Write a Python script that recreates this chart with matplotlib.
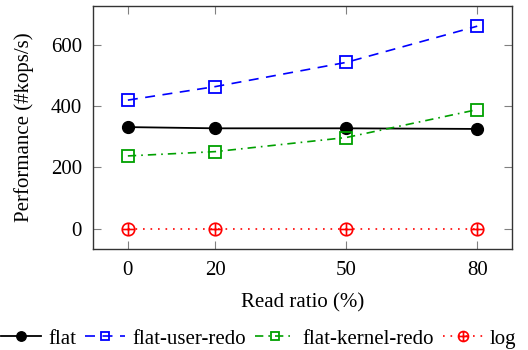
import matplotlib
matplotlib.use('Agg')
import matplotlib.pyplot as plt
from matplotlib.path import Path

read_ratio = [0, 20, 50, 80]
flat = [331, 327, 327, 325]
flat_user_redo = [419, 463, 542, 660]
flat_kernel_redo = [237, 251, 297, 388]
log = [0, 0, 0, 0]
yticks = [0, 200, 400, 600]

plt.rcParams['font.family'] = ['Liberation Serif', 'DejaVu Serif']
plt.rcParams['mathtext.fontset'] = 'stix'

# circle with a plus inside, like the pgfplots "oplus" mark
circ = Path.unit_circle()
plus = Path([(-1, 0), (1, 0), (0, -1), (0, 1)],
            [Path.MOVETO, Path.LINETO, Path.MOVETO, Path.LINETO])
oplus = Path.make_compound_path(circ, plus)

fig = plt.figure(figsize=(5.28, 3.5), dpi=100)
ax = fig.add_axes([0.176, 0.289, 0.794, 0.694])

ax.plot(read_ratio, flat, color='black', lw=1.3, marker='o', ms=8.5, label='flat')
ax.plot(read_ratio, flat_user_redo, color='blue', lw=1.2, ls=(0, (6, 4.5)),
        marker='s', ms=8, mfc='none', mew=1.3, label='flat-user-redo')
ax.plot(read_ratio, flat_kernel_redo, color='#00a000', lw=1.2, ls=(0, (5, 3, 1, 3)),
        marker='s', ms=8, mfc='none', mew=1.3, label='flat-kernel-redo')
ax.plot(read_ratio, log, color='red', lw=1.2, ls=(0, (1, 3.5)),
        marker=oplus, ms=9, mfc='none', mew=1.2, label='log')

ax.set_xlim(-8, 88)
ax.set_ylim(-66, 726)
ax.set_xticks(read_ratio)
ax.set_yticks(yticks)
ax.tick_params(axis='y', direction='in', length=6, color='gray', right=True,
               labelsize=15, pad=8)
ax.tick_params(axis='x', direction='in', length=6, color='gray', top=True,
               labelsize=15, pad=9)
for s in ax.spines.values():
    s.set_linewidth(1.0)
    s.set_color('#333333')

ax.set_xlabel('Read ratio (%)', fontsize=15, labelpad=9)
ax.set_ylabel('Performance (#kops/s)', fontsize=15, labelpad=12)

fig.legend(loc='lower center', bbox_to_anchor=(0.49, -0.05), ncol=4, frameon=False,
           fontsize=15, handlelength=1.9, handletextpad=0.35, columnspacing=0.45,
           markerscale=0.8)

fig.savefig('out.png', dpi=100)
